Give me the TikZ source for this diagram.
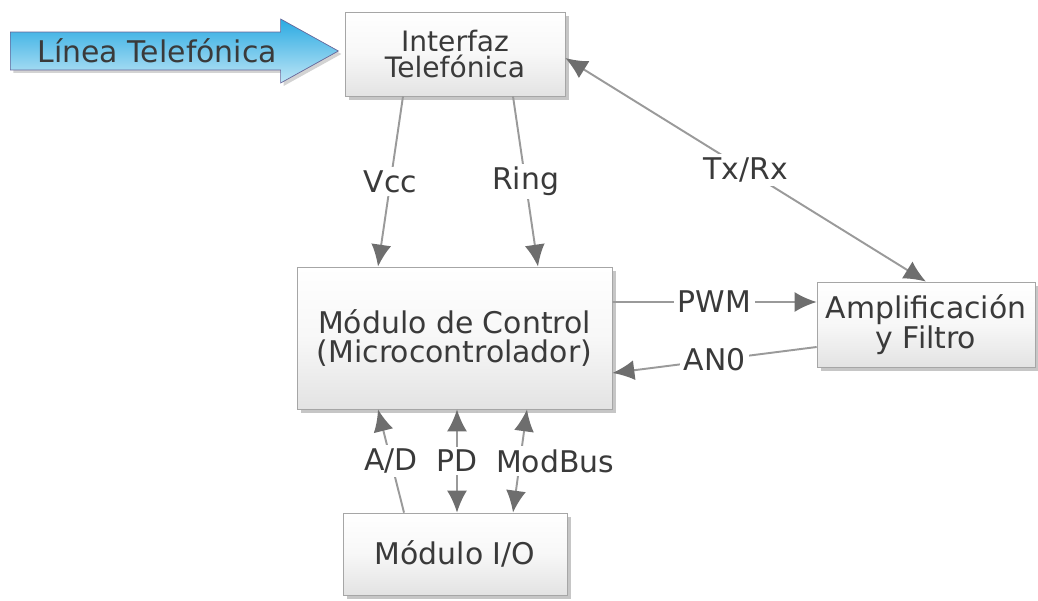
\documentclass[tikz,border=0pt]{standalone}
\usepackage{fontspec}
\setmainfont{DejaVu Sans}
\usetikzlibrary{arrows.meta,shapes.arrows,shadows}
\definecolor{txt}{HTML}{3A3A3A}
\definecolor{edge}{HTML}{9A9A9A}
\definecolor{tipc}{HTML}{6E6E6E}
\definecolor{blueA}{HTML}{2AAAE2}
\definecolor{blueB}{HTML}{BFE6F6}
\begin{document}
\begin{tikzpicture}
  [every node/.style={text=txt,font=\fontsize{17}{17}\selectfont},
   block/.style={rectangle,draw=gray!70,align=center,top color=white,bottom color=gray!22,
     middle color=gray!6,drop shadow={opacity=0.45,shadow xshift=0.07cm,shadow yshift=-0.08cm}},
   conn/.style={draw=edge,line width=1.1pt,-{Latex[length=4.4mm,width=4mm,color=tipc]}},
   both/.style={conn,{Latex[length=4.4mm,width=4mm,color=tipc]}-{Latex[length=4.4mm,width=4mm,color=tipc]}}]
  \tikzstyle{lbl} = [fill=white,inner sep=2pt]
  \useasboundingbox (0,0) rectangle (20.76,12);
  \node[single arrow,draw=gray!80!blue,top color=blueA,bottom color=blueB,
        minimum height=6.56cm,minimum width=1.28cm,single arrow head extend=0.22cm,
        single arrow tip angle=58,inner sep=2pt,anchor=tail,
        drop shadow={opacity=0.35,shadow xshift=0.06cm,shadow yshift=-0.06cm}]
        (linea) at (0.2,10.98) {Línea Telefónica};
  \node[block,minimum width=4.4cm,minimum height=1.68cm,font=\fontsize{16}{14.5}\selectfont]
        (itf) at (9.1,10.92) {Interfaz\\Telefónica};
  \node[block,minimum width=6.3cm,minimum height=2.84cm] (ctl) at (9.09,5.24)
        {Módulo de Control\\(Microcontrolador)};
  \node[block,minimum width=4.36cm,minimum height=1.7cm] (amp) at (18.52,5.51)
        {Amplificación\\y Filtro};
  \node[block,minimum width=4.48cm,minimum height=1.64cm] (io) at (9.1,0.92) {Módulo I/O};
  \foreach \src/\sx/\dst/\dx/\lab in {itf.south/-1.04/ctl.north/-1.53/Vcc,
      itf.south/1.16/ctl.north/1.67/Ring, io.north/-1.02/ctl.south/-1.53/{A/D}}
   \draw[conn] ([xshift=\sx cm]\src) -- node[lbl] {\lab} ([xshift=\dx cm]\dst);
  \foreach \src/\sy/\dst/\dy/\lab in {ctl.east/0.72/amp.west/0.45/PWM,
      amp.west/-0.45/ctl.east/-0.7/AN0}
   \draw[conn] ([yshift=\sy cm]\src) -- node[lbl] {\lab} ([yshift=\dy cm]\dst);
  \foreach \src/\sx/\dst/\dx/\lab/\off in {io.north/0.04/ctl.south/0.05/PD/0,
      io.north/1.16/ctl.south/1.45/ModBus/0.7}
   \draw[both] ([xshift=\sx cm]\src) -- node[lbl,xshift=\off cm] {\lab} ([xshift=\dx cm]\dst);
  \draw[both] ([yshift=-0.08cm]itf.east) -- node[lbl] {Tx/Rx} (amp.north);
\end{tikzpicture}
\end{document}
